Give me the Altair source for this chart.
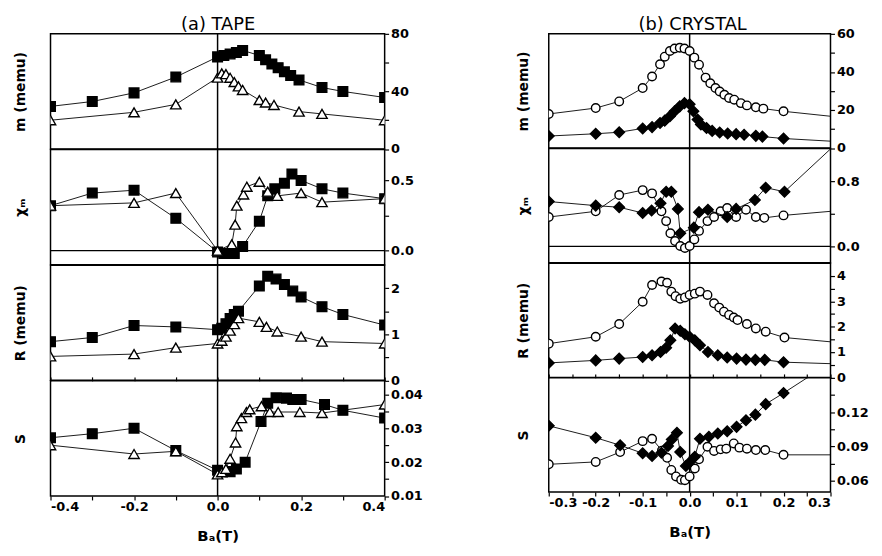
import altair as alt
import pandas as pd

# ---------------- (a) TAPE ----------------
TAPE_M_SQ_X = [-0.4, -0.3, -0.2, -0.1, 0.0, 0.015, 0.03, 0.045, 0.06, 0.1, 0.115, 0.13, 0.145, 0.16, 0.175, 0.195, 0.25, 0.3, 0.4]
TAPE_M_SQ_Y = [29.6, 33, 39, 50, 64, 65, 66, 67, 68.5, 65, 62, 59, 56.5, 53.6, 51, 48, 42.7, 40, 35.8]
TAPE_M_TR_X = [-0.4, -0.2, -0.1, 0.0, 0.01, 0.02, 0.03, 0.04, 0.05, 0.06, 0.1, 0.115, 0.135, 0.195, 0.25, 0.4]
TAPE_M_TR_Y = [20, 25.5, 31, 49.6, 52.5, 52, 49.5, 46.5, 43.5, 41, 34, 32.3, 30.6, 26, 24.4, 20]

TAPE_CHI_SQ_X = [-0.4, -0.3, -0.2, -0.1, 0.0, 0.015, 0.04, 0.06, 0.1, 0.12, 0.137, 0.16, 0.178, 0.2, 0.25, 0.3, 0.4]
TAPE_CHI_SQ_Y = [0.32, 0.41, 0.43, 0.23, -0.01, -0.02, -0.02, 0.03, 0.21, 0.39, 0.44, 0.48, 0.545, 0.5, 0.44, 0.41, 0.37]
TAPE_CHI_TR_X = [-0.4, -0.2, -0.1, 0.0, 0.034, 0.042, 0.046, 0.062, 0.07, 0.1, 0.12, 0.143, 0.2, 0.25, 0.4]
TAPE_CHI_TR_Y = [0.32, 0.34, 0.41, 0.0, 0.045, 0.185, 0.32, 0.4, 0.455, 0.49, 0.42, 0.39, 0.41, 0.345, 0.37]

TAPE_R_SQ_X = [-0.4, -0.3, -0.2, -0.1, 0.0, 0.01, 0.02, 0.03, 0.04, 0.05, 0.1, 0.12, 0.14, 0.16, 0.18, 0.2, 0.25, 0.3, 0.4]
TAPE_R_SQ_Y = [0.84, 0.93, 1.19, 1.16, 1.1, 1.13, 1.23, 1.34, 1.43, 1.5, 2.05, 2.26, 2.2, 2.08, 1.94, 1.81, 1.6, 1.43, 1.2]
TAPE_R_TR_X = [-0.4, -0.2, -0.1, 0.0, 0.01, 0.02, 0.03, 0.04, 0.05, 0.1, 0.117, 0.143, 0.2, 0.25, 0.4]
TAPE_R_TR_Y = [0.52, 0.57, 0.71, 0.8, 0.86, 0.95, 1.08, 1.22, 1.35, 1.27, 1.16, 1.06, 0.95, 0.84, 0.8]

TAPE_S_SQ_X = [-0.4, -0.3, -0.2, -0.1, 0.0, 0.03, 0.045, 0.066, 0.104, 0.12, 0.14, 0.165, 0.18, 0.2, 0.256, 0.3, 0.4]
TAPE_S_SQ_Y = [0.0272, 0.0284, 0.030, 0.0234, 0.0176, 0.0172, 0.018, 0.020, 0.032, 0.0374, 0.039, 0.0389, 0.0385, 0.0385, 0.037, 0.0353, 0.033]
TAPE_S_TR_X = [-0.4, -0.2, -0.1, 0.0, 0.01, 0.02, 0.03, 0.043, 0.046, 0.057, 0.069, 0.077, 0.105, 0.125, 0.145, 0.197, 0.25, 0.4]
TAPE_S_TR_Y = [0.025, 0.0224, 0.0232, 0.0164, 0.017, 0.018, 0.021, 0.0258, 0.0306, 0.033, 0.0348, 0.0356, 0.0365, 0.0348, 0.0348, 0.0348, 0.0345, 0.037]

# ---------------- (b) CRYSTAL ----------------
CRY_M_CI_X = [-0.3, -0.2, -0.15, -0.1, -0.08, -0.063, -0.053, -0.042, -0.032, -0.021, -0.011, 0.0, 0.01, 0.02, 0.034, 0.044, 0.055, 0.064, 0.074, 0.084, 0.095, 0.109, 0.122, 0.141, 0.157, 0.2, 0.4]
CRY_M_CI_Y = [17.9, 21, 24.5, 31.5, 37.6, 44, 48, 51, 52.3, 52.7, 52.3, 51, 47.5, 43.8, 37, 34, 31.5, 29.7, 28, 26.3, 25.4, 23.6, 22.4, 21.4, 20.7, 19.3, 14.1]
CRY_M_DI_X = [-0.3, -0.2, -0.15, -0.1, -0.08, -0.063, -0.053, -0.042, -0.032, -0.021, -0.011, 0.0, 0.008, 0.017, 0.024, 0.036, 0.048, 0.064, 0.081, 0.099, 0.116, 0.141, 0.155, 0.2, 0.4]
CRY_M_DI_Y = [6.3, 7.5, 8.3, 10.3, 11, 13.2, 14.4, 16.7, 19.3, 21.9, 23.6, 23, 19.3, 15, 12.4, 10.5, 9, 8.2, 7.6, 7.3, 7, 6.4, 6, 5, 2.2]

CRY_CHI_DI_X = [-0.3, -0.2, -0.15, -0.1, -0.081, -0.062, -0.05, -0.039, -0.025, -0.02, 0.009, 0.02, 0.039, 0.08, 0.099, 0.139, 0.162, 0.202, 0.4]
CRY_CHI_DI_Y = [0.55, 0.5, 0.48, 0.41, 0.44, 0.53, 0.67, 0.67, 0.46, 0.16, 0.23, 0.42, 0.45, 0.36, 0.46, 0.57, 0.72, 0.67, 1.73]
CRY_CHI_CI_X = [-0.3, -0.2, -0.15, -0.1, -0.08, -0.06, -0.05, -0.041, -0.031, -0.02, -0.01, 0.0, 0.01, 0.02, 0.038, 0.052, 0.066, 0.08, 0.099, 0.12, 0.141, 0.159, 0.2, 0.4]
CRY_CHI_CI_Y = [0.36, 0.43, 0.63, 0.69, 0.65, 0.43, 0.31, 0.16, 0.065, 0.005, -0.02, 0.005, 0.085, 0.19, 0.31, 0.36, 0.43, 0.47, 0.36, 0.45, 0.36, 0.35, 0.38, 0.48]

CRY_R_CI_X = [-0.3, -0.2, -0.15, -0.1, -0.08, -0.06, -0.048, -0.039, -0.03, -0.02, -0.01, 0.0, 0.011, 0.022, 0.038, 0.052, 0.063, 0.073, 0.084, 0.094, 0.102, 0.122, 0.141, 0.162, 0.202, 0.4]
CRY_R_CI_Y = [1.33, 1.6, 2.1, 2.98, 3.64, 3.78, 3.73, 3.38, 3.2, 3.1, 3.15, 3.25, 3.3, 3.38, 3.25, 2.92, 2.75, 2.59, 2.46, 2.36, 2.26, 2.1, 1.93, 1.8, 1.57, 1.23]
CRY_R_DI_X = [-0.3, -0.2, -0.15, -0.1, -0.08, -0.062, -0.05, -0.041, -0.031, -0.02, -0.01, 0.0, 0.011, 0.022, 0.039, 0.06, 0.08, 0.1, 0.12, 0.14, 0.16, 0.2, 0.4]
CRY_R_DI_Y = [0.57, 0.67, 0.74, 0.8, 0.87, 1.0, 1.17, 1.46, 1.93, 1.84, 1.7, 1.6, 1.46, 1.27, 1.0, 0.87, 0.78, 0.74, 0.7, 0.69, 0.69, 0.6, 0.48]

CRY_S_DI_X = [-0.3, -0.2, -0.148, -0.1, -0.08, -0.06, -0.046, -0.038, -0.027, -0.02, -0.008, 0.0, 0.011, 0.022, 0.041, 0.06, 0.08, 0.1, 0.12, 0.14, 0.162, 0.2, 0.4]
CRY_S_DI_Y = [0.108, 0.0976, 0.091, 0.084, 0.0816, 0.0845, 0.0903, 0.096, 0.1019, 0.085, 0.0729, 0.076, 0.081, 0.0967, 0.0984, 0.1013, 0.1033, 0.1071, 0.1129, 0.1178, 0.127, 0.1367, 0.19]
CRY_S_CI_X = [-0.3, -0.2, -0.148, -0.1, -0.08, -0.059, -0.048, -0.039, -0.029, -0.018, -0.01, 0.0, 0.011, 0.02, 0.038, 0.052, 0.066, 0.078, 0.094, 0.106, 0.122, 0.141, 0.161, 0.2, 0.4]
CRY_S_CI_Y = [0.0743, 0.0764, 0.085, 0.0946, 0.0967, 0.0863, 0.080, 0.0694, 0.0637, 0.0607, 0.0604, 0.0637, 0.0706, 0.0787, 0.0897, 0.086, 0.0874, 0.088, 0.0926, 0.0889, 0.088, 0.0868, 0.0868, 0.0826, 0.0826]

# ---------------- axes ----------------
TAPE_XDOM = [-0.4, 0.4]
TAPE_XTICKS = [-0.4, -0.3, -0.2, -0.1, 0.0, 0.1, 0.2, 0.3, 0.4]
TAPE_XLAB_V = [-0.4, -0.2, 0.0, 0.2, 0.4]
TAPE_XLAB_T = ["-0.4", "-0.2", "0.0", "0.2", "0.4"]
CRY_XDOM = [-0.3, 0.3]
CRY_XTICKS = [-0.3, -0.25, -0.2, -0.15, -0.1, -0.05, 0.0, 0.05, 0.1, 0.15, 0.2, 0.25, 0.3]
CRY_XLAB_V = [-0.3, -0.2, -0.1, 0.0, 0.1, 0.2, 0.3]
CRY_XLAB_T = ["-0.3", "-0.2", "-0.1", "0.0", "0.1", "0.2", "0.3"]

TAPE_Y = [
    ([0, 80], [0, 20, 40, 60, 80], [0, 40, 80], ["0", "40", "80"], "m (memu)"),
    ([-0.1, 0.72], [0, 0.25, 0.5], [0, 0.5], ["0.0", "0.5"], "χₘ"),
    ([0, 2.5], [0, 0.5, 1, 1.5, 2], [0, 1, 2], ["0", "1", "2"], "R (memu)"),
    ([0.01, 0.044], [0.01, 0.015, 0.02, 0.025, 0.03, 0.035, 0.04], [0.01, 0.02, 0.03, 0.04], ["0.01", "0.02", "0.03", "0.04"], "S"),
]
CRY_Y = [
    ([0, 60], [0, 10, 20, 30, 40, 50, 60], [0, 20, 40, 60], ["0", "20", "40", "60"], "m (memu)"),
    ([-0.2, 1.2], [0, 0.4, 0.8], [0, 0.8], ["0.0", "0.8"], "χₘ"),
    ([0, 4.5], [0, 0.5, 1, 1.5, 2, 2.5, 3, 3.5, 4], [0, 1, 2, 3, 4], ["0", "1", "2", "3", "4"], "R (memu)"),
    ([0.05, 0.15], [0.06, 0.075, 0.09, 0.105, 0.12, 0.135], [0.06, 0.09, 0.12], ["0.06", "0.09", "0.12"], "S"),
]

FONT = "DejaVu Sans"
SQ = dict(shape="square", fill="black", size=95)
TRI = dict(shape="triangle-up", fill="white", size=110)
CIR = dict(shape="circle", fill="white", size=75)
DIA = dict(shape="diamond", fill="black", size=115)


def lbl_expr(vals, labels):
    parts = [f"abs(datum.value - ({v})) < 1e-9 ? '{t}'" for v, t in zip(vals, labels)]
    return " : ".join(parts) + " : ''"


def panel(series, xdom, xticks, xlv, xlt, ycfg, width, height, pos, zero_line, title_off):
    ydom, yticks, ylv, ylt, ytitle = ycfg
    xs = alt.Scale(domain=xdom, nice=False, zero=False)
    ys = alt.Scale(domain=ydom, nice=False, zero=False)
    yaxis = alt.Axis(orient="right", values=yticks, labelExpr=lbl_expr(ylv, ylt), tickSize=4,
                     labelPadding=2, domain=False, grid=False, title=ytitle, titleAngle=270,
                     titleX=-width - title_off, titleY=height / 2, titleAlign="center",
                     titleBaseline="middle", titleFontSize=14, titleFontWeight="bold",
                     labelFontSize=13, labelFontWeight="bold")
    top_axis = alt.Axis(orient="top", values=xticks, labels=False, tickSize=4, domain=False,
                        grid=False, title=None)
    bot_axis = alt.Axis(orient="bottom", values=xticks, labelExpr=lbl_expr(xlv, xlt), tickSize=4,
                        domain=False, grid=False, title="Bₐ(T)", labelFontSize=13,
                        labelFontWeight="bold", labelPadding=1, titleFontSize=15,
                        titleFontWeight="bold", titlePadding=15)
    if pos == "top":
        rule_ax, data_ax = None, None
    elif pos == "mid":
        rule_ax, data_ax = top_axis, top_axis
    else:
        rule_ax, data_ax = bot_axis, top_axis

    layers = []
    layers.append(alt.Chart(pd.DataFrame({"x": [0.0]})).mark_rule(color="black", strokeWidth=1.5)
                  .encode(x=alt.X("x:Q", scale=xs, axis=rule_ax)))
    if zero_line:
        layers.append(alt.Chart(pd.DataFrame({"y": [0.0]})).mark_rule(color="black", strokeWidth=1.3)
                      .encode(y=alt.Y("y:Q", scale=ys, axis=yaxis)))
    first = True
    for sx, sy, st in series:
        df = pd.DataFrame({"x": sx, "y": sy})
        ax = data_ax if first else (None if pos == "bottom" else data_ax)
        first = False
        enc = dict(x=alt.X("x:Q", scale=xs, axis=ax), y=alt.Y("y:Q", scale=ys, axis=yaxis))
        layers.append(alt.Chart(df).mark_line(color="black", strokeWidth=0.9, clip=True).encode(**enc))
        enc2 = dict(x=alt.X("x:Q", scale=xs, axis=None), y=alt.Y("y:Q", scale=ys, axis=yaxis))
        layers.append(alt.Chart(df).mark_point(shape=st["shape"], filled=True, fill=st["fill"],
                                               stroke="black", strokeWidth=1.4, size=st["size"],
                                               opacity=1, clip=True).encode(**enc2))
    ch = alt.layer(*layers).properties(width=width, height=height)
    if pos == "bottom":
        ch = ch.resolve_scale(x="independent")
    return ch


tape_series = [
    [(TAPE_M_SQ_X, TAPE_M_SQ_Y, SQ), (TAPE_M_TR_X, TAPE_M_TR_Y, TRI)],
    [(TAPE_CHI_SQ_X, TAPE_CHI_SQ_Y, SQ), (TAPE_CHI_TR_X, TAPE_CHI_TR_Y, TRI)],
    [(TAPE_R_SQ_X, TAPE_R_SQ_Y, SQ), (TAPE_R_TR_X, TAPE_R_TR_Y, TRI)],
    [(TAPE_S_SQ_X, TAPE_S_SQ_Y, SQ), (TAPE_S_TR_X, TAPE_S_TR_Y, TRI)],
]
cry_series = [
    [(CRY_M_CI_X, CRY_M_CI_Y, CIR), (CRY_M_DI_X, CRY_M_DI_Y, DIA)],
    [(CRY_CHI_CI_X, CRY_CHI_CI_Y, CIR), (CRY_CHI_DI_X, CRY_CHI_DI_Y, DIA)],
    [(CRY_R_CI_X, CRY_R_CI_Y, CIR), (CRY_R_DI_X, CRY_R_DI_Y, DIA)],
    [(CRY_S_CI_X, CRY_S_CI_Y, CIR), (CRY_S_DI_X, CRY_S_DI_Y, DIA)],
]
POS = ["top", "mid", "mid", "bottom"]

tape_panels = [panel(tape_series[i], TAPE_XDOM, TAPE_XTICKS, TAPE_XLAB_V, TAPE_XLAB_T, TAPE_Y[i],
                     338, 116.5, POS[i], i == 1, 30) for i in range(4)]
cry_panels = [panel(cry_series[i], CRY_XDOM, CRY_XTICKS, CRY_XLAB_V, CRY_XLAB_T, CRY_Y[i],
                    285, 115.5, POS[i], i == 1, 25) for i in range(4)]

colA = alt.vconcat(*tape_panels, spacing=0, bounds="flush",
                   title=alt.Title("(a) TAPE", fontSize=18, fontWeight="normal", anchor="middle"))
colB = alt.vconcat(*cry_panels, spacing=0, bounds="flush",
                   title=alt.Title("(b) CRYSTAL", fontSize=18, fontWeight="normal", anchor="middle"))

chart = (
    alt.hconcat(colA, colB, spacing=94)
    .properties(background="white")
    .configure_view(stroke="black", strokeWidth=1.5)
    .configure_axis(labelFont=FONT, titleFont=FONT, labelColor="black", titleColor="black",
                    tickColor="black", tickWidth=1.2)
    .configure_title(font=FONT, color="black", offset=-7)
)

chart.save("out.html", embed_options={"renderer": "svg", "actions": False})
